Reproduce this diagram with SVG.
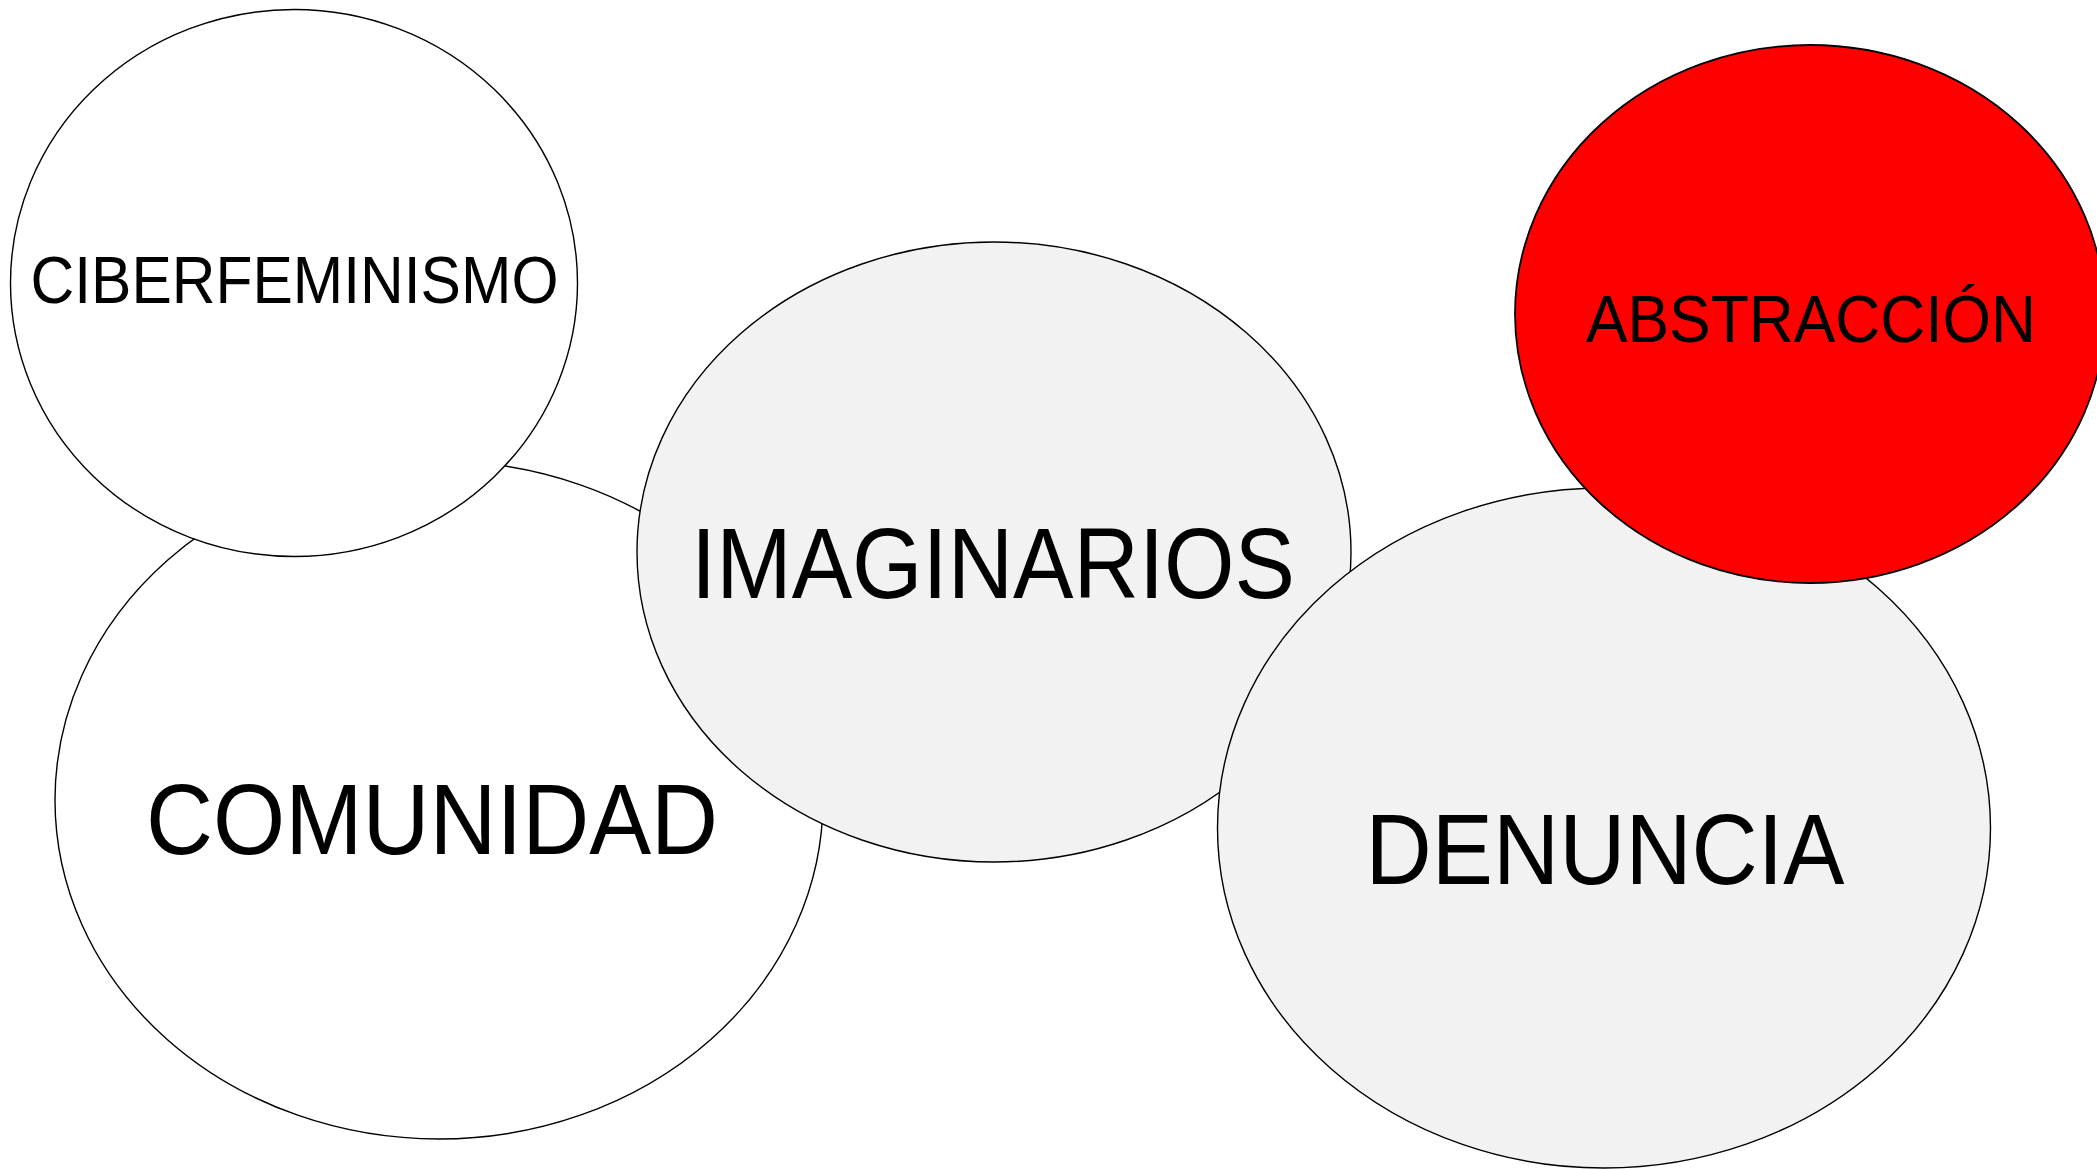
<svg xmlns="http://www.w3.org/2000/svg" width="2097" height="1169" viewBox="0 0 2097 1169">
<style>
  .node { stroke: #000; stroke-width: 1.4; }
  .white { fill: #ffffff; }
  .grey { fill: #f2f2f2; }
  .red { fill: #ff0000; stroke-width: 1.8; }
  .label { font-family: "Liberation Sans", Arial, Helvetica, sans-serif; fill: #000; text-anchor: middle; }
  .big { font-size: 100px; }
  .small { font-size: 66px; }
</style>
<rect x="0" y="0" width="2097" height="1169" fill="#ffffff"/>
<g id="connectors"></g>
<g id="comunidad">
  <ellipse class="node white" cx="439" cy="800" rx="384" ry="339"/>
  <text class="label big" x="432" y="854" textLength="572" lengthAdjust="spacingAndGlyphs">COMUNIDAD</text>
</g>
<g id="ciberfeminismo">
  <ellipse class="node white" cx="294" cy="283" rx="283.5" ry="273.5"/>
  <text class="label small" x="294.5" y="303" textLength="528" lengthAdjust="spacingAndGlyphs">CIBERFEMINISMO</text>
</g>
<g id="imaginarios">
  <ellipse class="node grey" cx="994" cy="552" rx="357" ry="310"/>
  <text class="label big" x="993" y="598" textLength="604" lengthAdjust="spacingAndGlyphs">IMAGINARIOS</text>
</g>
<g id="denuncia">
  <ellipse class="node grey" cx="1604" cy="828" rx="386.5" ry="340"/>
  <text class="label big" x="1605" y="884" textLength="479" lengthAdjust="spacingAndGlyphs">DENUNCIA</text>
</g>
<g id="abstraccion">
  <ellipse class="node red" cx="1810" cy="314" rx="295" ry="269"/>
  <text class="label small" x="1811" y="342" textLength="450" lengthAdjust="spacingAndGlyphs">ABSTRACCIÓN</text>
</g>
</svg>
